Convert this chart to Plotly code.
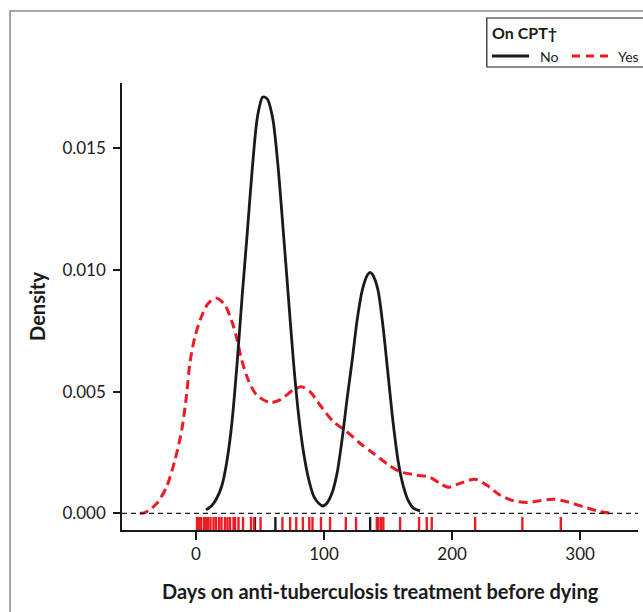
import plotly.graph_objects as go

# ---- data ----
no_days = [7.8, 12, 16, 20, 24, 28, 32, 36, 40, 44, 48, 52, 54, 56, 60, 64, 68, 72, 76,
           80, 84, 88, 92, 96, 99, 102, 106, 110, 114, 118, 122, 126, 130, 134, 136, 138,
           142, 146, 150, 154, 158, 162, 166, 170, 175]
no_density = [0.00014, 0.0003, 0.0006, 0.0011, 0.0021, 0.0037, 0.0061, 0.0089, 0.0115,
              0.0142, 0.0163, 0.0171, 0.0171, 0.0170, 0.0162, 0.0143, 0.0117, 0.0090,
              0.0063, 0.0041, 0.0025, 0.0014, 0.0007, 0.0004, 0.0003, 0.0004, 0.0008,
              0.0016, 0.0030, 0.0047, 0.0063, 0.0080, 0.0092, 0.0098, 0.0099, 0.0098,
              0.0092, 0.0077, 0.0057, 0.0037, 0.0021, 0.0011, 0.0005, 0.0002, 0.0001]

yes_days = [-44, -39.8, -30.7, -22.9, -16.4, -11.2, -7.3, -4.7, -0.8, 4.4, 9.6, 16.2,
            22.6, 27.9, 31.8, 35.7, 40.8, 47.4, 57.8, 65.6, 76, 82.5, 89, 96.8, 107.2,
            117.7, 128, 138.4, 148.9, 159.3, 172.3, 182.7, 190.5, 197, 206.2, 217.9,
            227, 237.4, 247.8, 258.2, 268.6, 279, 289.4, 302.4, 315.5, 325.9]
yes_density = [0.0, 0.00003, 0.0004, 0.0011, 0.0022, 0.0034, 0.0049, 0.0062, 0.00726,
               0.0081, 0.00863, 0.00884, 0.00856, 0.0079, 0.0072, 0.0063, 0.00548,
               0.00486, 0.00455, 0.00466, 0.00507, 0.0052, 0.005, 0.00445, 0.00377,
               0.00336, 0.00288, 0.00247, 0.00205, 0.00171, 0.00157, 0.00148, 0.00123,
               0.00107, 0.00123, 0.0014, 0.00116, 0.00075, 0.00052, 0.00044, 0.00052,
               0.00058, 0.00048, 0.00027, 0.00007, 0.0]

rug_no = [46, 62, 136]
rug_yes = [0.8, 2.3, 3.9, 6.2, 7.8, 9.4, 11.3, 13.7, 15.6, 18, 19.9, 22.6, 24.6, 26.6,
           29.3, 30.5, 33.2, 36.7, 42.9, 45.3, 50.4, 67.5, 73.5, 78.3, 83.5, 88.5, 91,
           97.6, 104.7, 117, 125, 141.2, 142.4, 144.5, 146.3, 159.4, 174.2, 180.2,
           184.1, 218, 254.9, 284.9]

x_ticks = [0, 100, 200, 300]
y_ticks = [0.0, 0.005, 0.010, 0.015]
y_ticklabels = ["0.000", "0.005", "0.010", "0.015"]

legend_title = "On CPT†"
series_names = ["No", "Yes"]
x_title = "Days on anti-tuberculosis treatment before dying"
y_title = "Density"

# ---- style ----
RED = "#ed1c24"
BLACK = "#1a1a1a"
FONT = "Lato"
Y_MIN, Y_MAX = -0.000686, 0.017684
RUG_TOP = -0.00015


def rug_xy(days, top, bottom):
    xs, ys = [], []
    for d in days:
        xs += [d, d, None]
        ys += [top, bottom, None]
    return xs, ys


fig = go.Figure()

rx, ry = rug_xy(rug_no, RUG_TOP, Y_MIN)
fig.add_trace(go.Scatter(x=rx, y=ry, mode="lines", line=dict(color=BLACK, width=2.4),
                         showlegend=False, hoverinfo="skip"))
rx, ry = rug_xy(rug_yes, RUG_TOP, Y_MIN)
fig.add_trace(go.Scatter(x=rx, y=ry, mode="lines", line=dict(color=RED, width=2.4),
                         showlegend=False, hoverinfo="skip"))

fig.add_trace(go.Scatter(x=yes_days, y=yes_density, mode="lines", name=series_names[1],
                         line=dict(color=RED, width=3, dash="9px,5px", shape="spline",
                                   smoothing=0.8),
                         showlegend=False))
fig.add_trace(go.Scatter(x=no_days, y=no_density, mode="lines", name=series_names[0],
                         line=dict(color=BLACK, width=2.8, shape="spline", smoothing=0.8),
                         showlegend=False))

shapes = [
    # dashed zero line
    dict(type="line", xref="paper", yref="y", x0=0, x1=1, y0=0, y1=0,
         line=dict(color=BLACK, width=1.3, dash="5px,4px")),
    # outer frame
    dict(type="rect", xref="paper", yref="paper", x0=-0.217, x1=1.3, y0=-0.4, y1=1.161,
         line=dict(color="#8a8a8a", width=1.5)),
    # legend box
    dict(type="rect", xref="paper", yref="paper", x0=0.707, x1=1.3, y0=1.0358, y1=1.1454,
         line=dict(color=BLACK, width=1.2)),
    # legend keys
    dict(type="line", xref="paper", yref="paper", x0=0.717, x1=0.789, y0=1.0604, y1=1.0604,
         line=dict(color=BLACK, width=2.8)),
    dict(type="line", xref="paper", yref="paper", x0=0.872, x1=0.946, y0=1.0604, y1=1.0604,
         line=dict(color=RED, width=3, dash="8px,6px")),
]

annotations = [
    dict(text="<b>" + legend_title + "</b>", xref="paper", yref="paper", x=0.713, y=1.114,
         xanchor="left", yanchor="middle", showarrow=False,
         font=dict(family=FONT, size=16, color=BLACK)),
    dict(text=series_names[0], xref="paper", yref="paper", x=0.806, y=1.0604,
         xanchor="left", yanchor="middle", showarrow=False,
         font=dict(family=FONT, size=14, color=BLACK)),
    dict(text=series_names[1], xref="paper", yref="paper", x=0.957, y=1.0604,
         xanchor="left", yanchor="middle", showarrow=False,
         font=dict(family=FONT, size=14, color=BLACK)),
    dict(text="<b>" + x_title + "</b>", xref="paper", yref="paper", x=0.5, y=-0.1365,
         xanchor="center", yanchor="middle", showarrow=False,
         font=dict(family=FONT, size=20, color=BLACK)),
    dict(text="<b>" + y_title + "</b>", xref="paper", yref="paper", x=-0.165, y=0.501,
         xanchor="center", yanchor="middle", showarrow=False, textangle=-90,
         font=dict(family=FONT, size=20, color=BLACK)),
]

fig.update_layout(
    width=643, height=612,
    margin=dict(l=122, r=5, t=83, b=82),
    paper_bgcolor="white", plot_bgcolor="white",
    font=dict(family=FONT, size=17, color=BLACK),
    shapes=shapes, annotations=annotations,
    showlegend=False,
)
fig.update_xaxes(range=[-57.8, 345.2], tickvals=x_ticks, showline=True, linecolor=BLACK,
                 linewidth=1.5, ticks="outside", ticklen=8, tickwidth=1.5, tickcolor=BLACK,
                 showgrid=False, zeroline=False, tickfont=dict(family=FONT, size=17))
fig.update_yaxes(range=[Y_MIN, Y_MAX], tickvals=y_ticks, ticktext=y_ticklabels,
                 showline=True, linecolor=BLACK, linewidth=1.5, ticks="outside", ticklen=7,
                 tickwidth=1.5, tickcolor=BLACK, showgrid=False, zeroline=False,
                 tickfont=dict(family=FONT, size=17), ticklabelstandoff=4)

fig.write_html(
    "out.html",
    config={"displayModeBar": False},
    post_script="document.body.style.margin='0';document.body.style.overflow='hidden';",
)
